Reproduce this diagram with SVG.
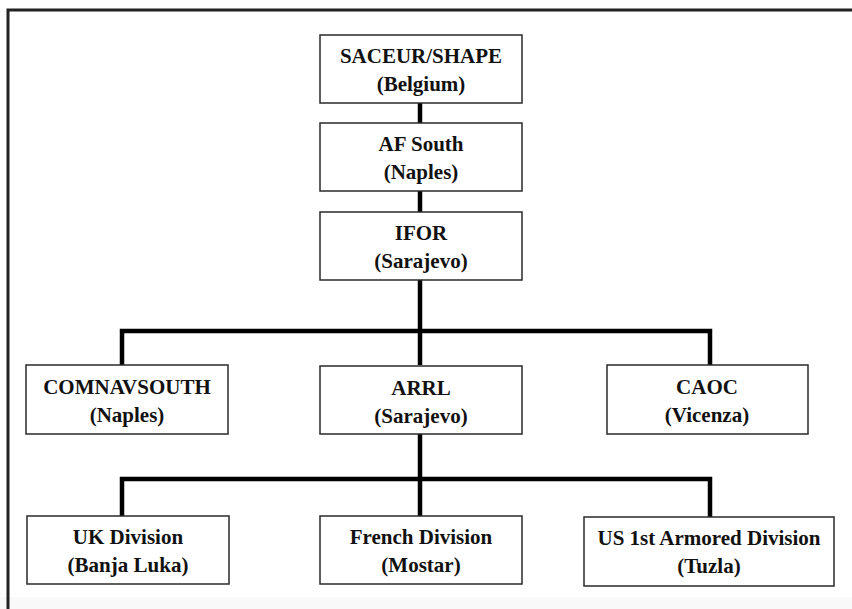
<svg xmlns="http://www.w3.org/2000/svg" width="852" height="609" viewBox="0 0 852 609">
<style>
.box{fill:#ffffff;stroke:#2a2a2a;stroke-width:1.5}
.t{font-family:"Liberation Serif","Times New Roman",serif;font-weight:bold;font-size:21px;fill:#111111;text-anchor:middle}
.conn{fill:none;stroke:#000000;stroke-width:4.5;stroke-linejoin:miter;stroke-linecap:butt}
.frame{fill:none;stroke:#222222;stroke-width:3;stroke-linejoin:miter}
</style>
<rect x="0" y="0" width="852" height="609" fill="#ffffff"/>
<rect x="0" y="597" width="852" height="12" fill="#f9f9f9"/>
<path class="frame" d="M8,609 V10 H852"/>
<g id="connectors">
<path class="conn" d="M420,103 V123"/>
<path class="conn" d="M420,191 V212"/>
<path class="conn" d="M420,280 V365"/>
<path class="conn" d="M122,365 V331 H710 V365"/>
<path class="conn" d="M420,434 V516"/>
<path class="conn" d="M122,516 V479 H710 V517"/>
</g>
<g id="saceur">
<rect class="box" x="320" y="35" width="202" height="68"/>
<text class="t" x="421" y="63">SACEUR/SHAPE</text>
<text class="t" x="421" y="91">(Belgium)</text>
</g>
<g id="afsouth">
<rect class="box" x="320" y="123" width="202" height="68"/>
<text class="t" x="421" y="151">AF South</text>
<text class="t" x="421" y="179">(Naples)</text>
</g>
<g id="ifor">
<rect class="box" x="320" y="212" width="202" height="68"/>
<text class="t" x="421" y="240">IFOR</text>
<text class="t" x="421" y="268">(Sarajevo)</text>
</g>
<g id="comnavsouth">
<rect class="box" x="26" y="365" width="202" height="69"/>
<text class="t" x="127" y="394">COMNAVSOUTH</text>
<text class="t" x="127" y="422">(Naples)</text>
</g>
<g id="arrl">
<rect class="box" x="320" y="366" width="202" height="68"/>
<text class="t" x="421" y="395">ARRL</text>
<text class="t" x="421" y="423">(Sarajevo)</text>
</g>
<g id="caoc">
<rect class="box" x="607" y="365" width="201" height="69"/>
<text class="t" x="707" y="394">CAOC</text>
<text class="t" x="707" y="422">(Vicenza)</text>
</g>
<g id="ukdiv">
<rect class="box" x="27" y="516" width="202" height="68"/>
<text class="t" x="128" y="544">UK Division</text>
<text class="t" x="128" y="572">(Banja Luka)</text>
</g>
<g id="frenchdiv">
<rect class="box" x="320" y="516" width="202" height="68"/>
<text class="t" x="421" y="544">French Division</text>
<text class="t" x="421" y="572">(Mostar)</text>
</g>
<g id="usdiv">
<rect class="box" x="584" y="517" width="250" height="69"/>
<text class="t" x="709" y="545">US 1st Armored Division</text>
<text class="t" x="709" y="573">(Tuzla)</text>
</g>
</svg>
